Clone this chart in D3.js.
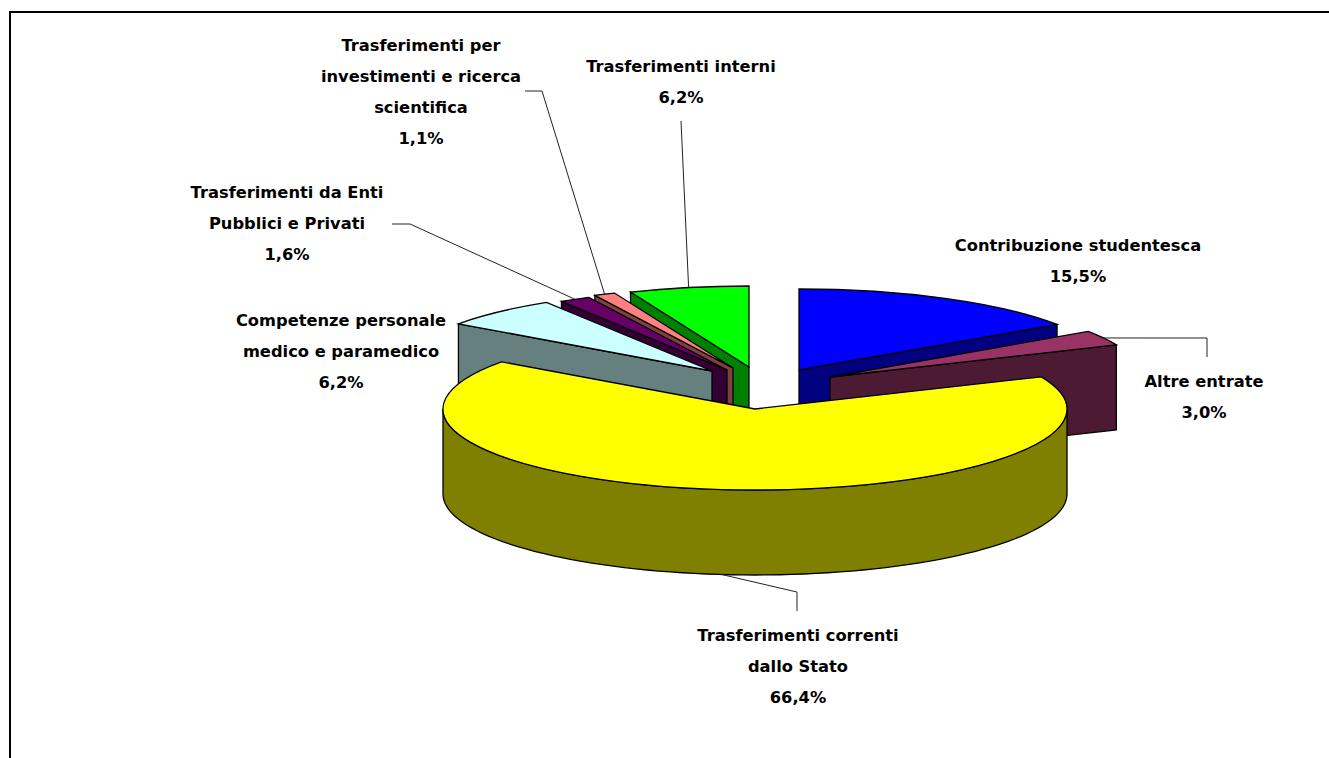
<!DOCTYPE html>
<html>
<head>
<meta charset="utf-8">
<script src="https://cdn.jsdelivr.net/npm/d3@7"></script>
<style>
    html, body { margin: 0; padding: 0; background: #fff; overflow: hidden; }
    text { font-family: "DejaVu Sans", sans-serif; font-weight: bold; font-size: 16.3px; fill: #000; }
</style>
</head>
<body>
<div id="chartContainer"></div>
<script>
// Data.
const categories = [
    "Contribuzione studentesca",
    "Altre entrate",
    "Trasferimenti correnti dallo Stato",
    "Competenze personale medico e paramedico",
    "Trasferimenti da Enti Pubblici e Privati",
    "Trasferimenti per investimenti e ricerca scientifica",
    "Trasferimenti interni"
];
const values = [15.5, 3.0, 66.4, 6.2, 1.6, 1.1, 6.2];
const valueLabels = ["15,5%", "3,0%", "66,4%", "6,2%", "1,6%", "1,1%", "6,2%"];

// Colours: top face and the darker wall below it.
const topColors = ["#0000ff", "#993366", "#ffff00", "#ccffff", "#660066", "#ff8080", "#00ff00"];
const wallColors = ["#000080", "#4d1a33", "#808000", "#668080", "#330033", "#804040", "#008000"];

// Layout. Each slice has its own apex because the pie is exploded.
const apexes = [[799, 370], [830, 377], [755, 409], [712, 371], [727, 370], [733, 368], [749, 367]];
const rx = 312, ry = 81, depth = 85;
const labelLines = [
    ["Contribuzione studentesca"],
    ["Altre entrate"],
    ["Trasferimenti correnti", "dallo Stato"],
    ["Competenze personale", "medico e paramedico"],
    ["Trasferimenti da Enti", "Pubblici e Privati"],
    ["Trasferimenti per", "investimenti e ricerca", "scientifica"],
    ["Trasferimenti interni"]
];
const labelPos = [[1078, 251], [1204, 387], [798, 641], [341, 326], [287, 198], [421, 51], [681, 72]];
const lineStep = 31;
// Elbows of the leader lines, from the label side towards the slice.
const leaders = [
    null,
    [[1207, 357], [1207, 338]],
    [[797, 611], [797, 592]],
    null,
    [[392, 224], [410, 224]],
    [[525, 91], [542, 91]],
    [[681, 121]]
];

const svg = d3.select("#chartContainer").append("svg")
    .attr("width", 1329)
    .attr("height", 758);

// Frame: only the top and left borders are in view.
svg.append("path")
    .attr("d", "M10,758V12H1329")
    .attr("fill", "none")
    .attr("stroke", "#000")
    .attr("stroke-width", 2);

const slices = d3.pie().sort(null).value(d => d)(values);

// Point on the rim of a slice's ellipse; angle is clockwise from 12 o'clock.
function rim(i, a, h = 0) {
    const [ax, ay] = apexes[i];
    return [ax + rx * Math.sin(a), ay - ry * Math.cos(a) + h];
}

const line = d3.line();
const unitArc = d3.arc().innerRadius(0).outerRadius(100);

// Painter's order, back slices first.
const drawOrder = [6, 5, 4, 3, 0, 1, 2];

drawOrder.forEach(i => {
    const s = slices[i];
    const [ax, ay] = apexes[i];
    const g = svg.append("g").attr("class", "slice");

    // Radial wall: the start edge on the left side, the end edge on the right side.
    const onRight = s.endAngle < Math.PI;
    if (i !== 2) {
        const edge = onRight ? s.endAngle : s.startAngle;
        g.append("path")
            .attr("d", line([rim(i, edge), [ax, ay], [ax, ay + depth], rim(i, edge, depth)]) + "Z")
            .attr("fill", wallColors[i])
            .attr("stroke", "#000")
            .attr("stroke-width", 1.3);
    }

    // Outer wall, only the part of the rim that faces the viewer.
    const from = Math.max(s.startAngle, Math.PI / 2);
    const to = Math.min(s.endAngle, 3 * Math.PI / 2);
    if (to > from) {
        const angles = d3.range(0, 81).map(k => from + (to - from) * k / 80);
        const outer = angles.map(a => rim(i, a)).concat(angles.slice().reverse().map(a => rim(i, a, depth)));
        g.append("path")
            .attr("d", line(outer) + "Z")
            .attr("fill", wallColors[i])
            .attr("stroke", "#000")
            .attr("stroke-width", 1.3);
    }

    // Top face: a flat d3 arc squashed into the ellipse.
    g.append("path")
        .attr("d", unitArc(s))
        .attr("transform", `translate(${ax},${ay}) scale(${rx / 100},${ry / 100})`)
        .attr("fill", topColors[i])
        .attr("stroke", "#000")
        .attr("stroke-width", 1.3)
        .attr("vector-effect", "non-scaling-stroke");
});

// Leader lines end at the rim, at the middle of the slice.
leaders.forEach((pts, i) => {
    if (!pts) return;
    const s = slices[i];
    const mid = (s.startAngle + s.endAngle) / 2;
    const isFront = Math.cos(mid) < 0;
    const end = rim(i, mid, isFront ? depth : 0);
    svg.append("path")
        .attr("d", line(pts.concat([end])))
        .attr("fill", "none")
        .attr("stroke", "#222")
        .attr("stroke-width", 1);
});

// Labels.
labelLines.forEach((lines, i) => {
    const t = svg.append("text")
        .attr("text-anchor", "middle")
        .attr("aria-label", categories[i]);
    lines.concat([valueLabels[i]]).forEach((txt, k) => {
        t.append("tspan")
            .attr("x", labelPos[i][0])
            .attr("y", labelPos[i][1] + k * lineStep)
            .text(txt);
    });
});
</script>
</body>
</html>
